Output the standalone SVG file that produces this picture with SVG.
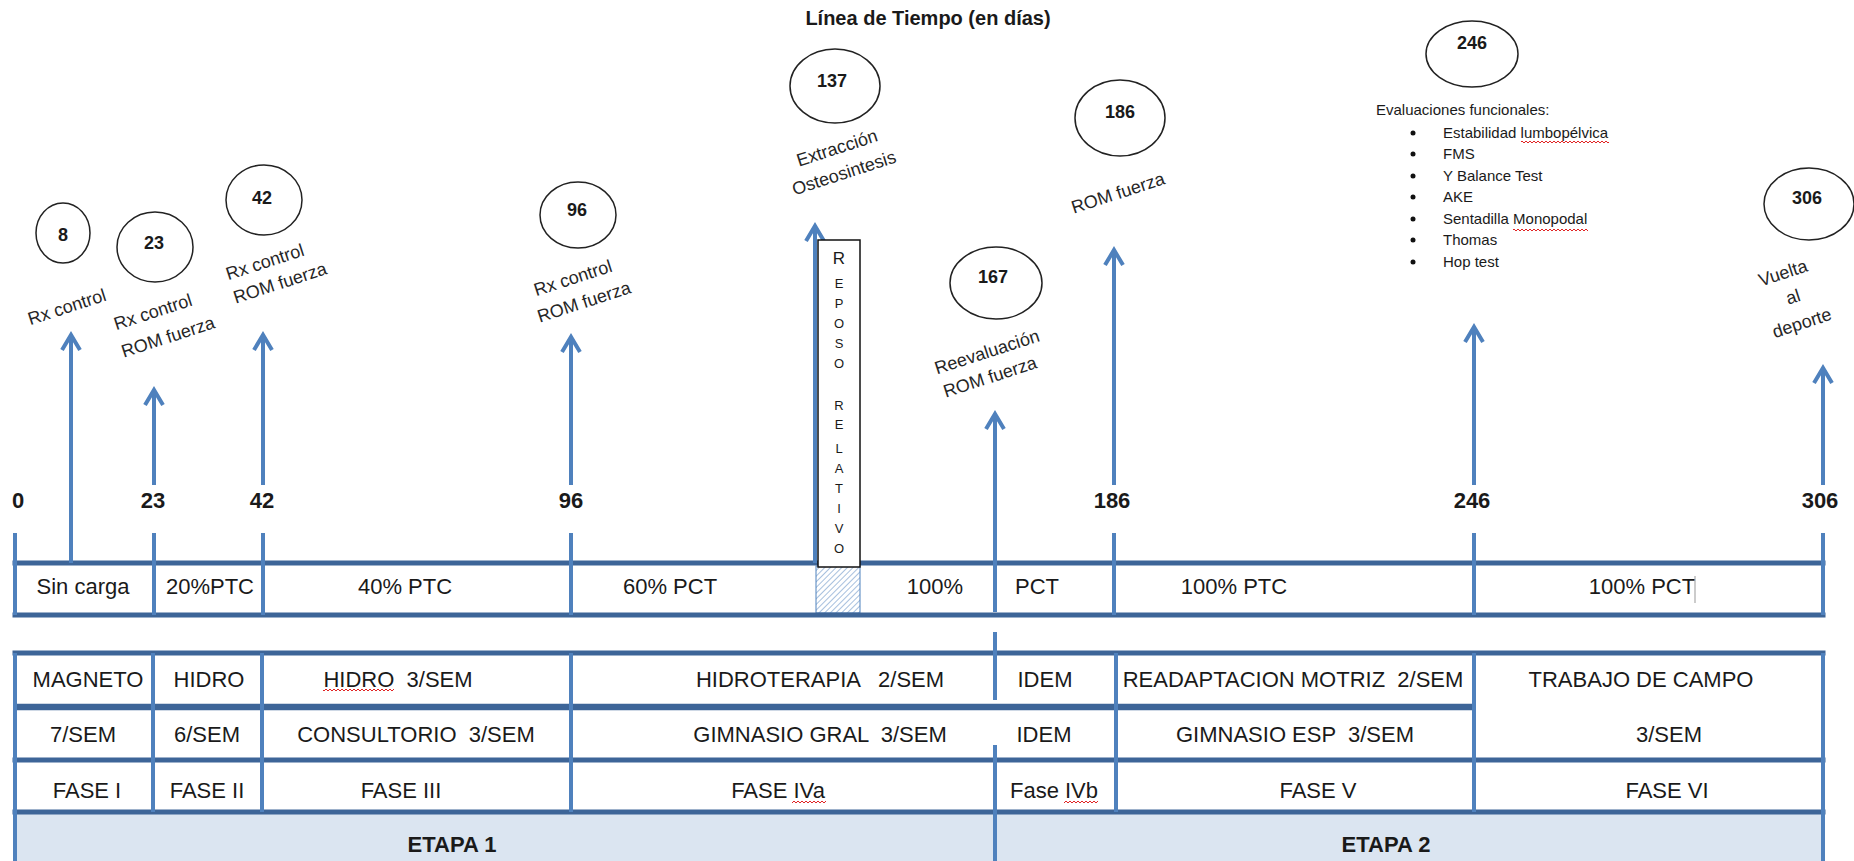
<svg xmlns="http://www.w3.org/2000/svg" width="1854" height="861" viewBox="0 0 1854 861">
<style>
text{font-family:"Liberation Sans",Arial,sans-serif;fill:#1a1a1a}
.cell{font-size:22px;text-anchor:middle}
.bold{font-weight:bold}
.tick{font-size:22px;font-weight:bold;text-anchor:middle}
.num{font-size:18px;font-weight:bold;text-anchor:middle}
.lbl{font-size:18px;text-anchor:middle;fill:#262626}
.let{font-size:13px;text-anchor:middle}
.lst{font-size:15px}
ellipse{fill:#fff;stroke:#222;stroke-width:1.5}
.ax{stroke:#4f81bd;stroke-width:4;fill:none;marker-end:url(#arr)}
.hl{stroke:#3d6598;stroke-width:5;stroke-linecap:square}
.hk{stroke:#3d6598;stroke-width:6.5}
.vl{stroke:#4f81bd;stroke-width:4}
.wv{fill:url(#wavy)}
</style>
<defs>
<marker id="arr" markerUnits="userSpaceOnUse" viewBox="-18 -12 22 24" markerWidth="22" markerHeight="24" refX="0" refY="0" orient="auto" overflow="visible">
<path d="M-15,-9 L0,0 L-15,9" fill="none" stroke="#4f81bd" stroke-width="4" stroke-linejoin="miter"/>
</marker>
<pattern id="hatch" width="4" height="4" patternUnits="userSpaceOnUse" patternTransform="rotate(45)">
<line x1="0" y1="0" x2="0" y2="4" stroke="#4f81bd" stroke-width="1"/>
</pattern>
<pattern id="wavy" width="4" height="4" patternUnits="userSpaceOnUse">
<path d="M0,3 L2,1 L4,3" fill="none" stroke="#e02424" stroke-width="1"/>
</pattern>
</defs>
<rect width="1854" height="861" fill="#fff"/>

<text x="928" y="25" class="bold" style="font-size:20px" text-anchor="middle">Línea de Tiempo (en días)</text>

<g id="table">
<rect x="15" y="812" width="1808" height="49" fill="#dbe5f1"/>
<rect x="816" y="566" width="44" height="47" fill="url(#hatch)" stroke="#4f81bd" stroke-width="1"/>
<line class="hl" x1="15" y1="563" x2="1823" y2="563"/>
<line class="hl" x1="15" y1="615" x2="1823" y2="615"/>
<line class="vl" x1="15" y1="533" x2="15" y2="615"/>
<line class="vl" x1="154" y1="533" x2="154" y2="615"/>
<line class="vl" x1="263" y1="533" x2="263" y2="615"/>
<line class="vl" x1="571" y1="533" x2="571" y2="615"/>
<line class="vl" x1="1114" y1="533" x2="1114" y2="615"/>
<line class="vl" x1="1474" y1="533" x2="1474" y2="615"/>
<line class="vl" x1="1823" y1="533" x2="1823" y2="615"/>

<line class="hl" x1="15" y1="653" x2="1823" y2="653"/>
<line class="hk" x1="15" y1="707" x2="1474" y2="707"/>
<line class="hl" x1="15" y1="760" x2="1823" y2="760"/>
<line class="hl" x1="15" y1="812" x2="1823" y2="812"/>
<line class="vl" x1="15" y1="653" x2="15" y2="861"/>
<line class="vl" x1="1823" y1="653" x2="1823" y2="861"/>
<line class="vl" x1="153" y1="653" x2="153" y2="812"/>
<line class="vl" x1="262" y1="653" x2="262" y2="812"/>
<line class="vl" x1="571" y1="653" x2="571" y2="812"/>
<line class="vl" x1="1116" y1="653" x2="1116" y2="812"/>
<line class="vl" x1="1474" y1="653" x2="1474" y2="812"/>
<line class="vl" x1="995" y1="632" x2="995" y2="700"/>
<line class="vl" x1="995" y1="745" x2="995" y2="861"/>

<text class="cell" x="83" y="594">Sin carga</text>
<text class="cell" x="210" y="594">20%PTC</text>
<text class="cell" x="405" y="594">40% PTC</text>
<text class="cell" x="670" y="594">60% PCT</text>
<text class="cell" x="935" y="594">100%</text>
<text class="cell" x="1037" y="594">PCT</text>
<text class="cell" x="1234" y="594">100% PTC</text>
<text class="cell" x="1642" y="594">100% PCT</text>
<line x1="1695" y1="576" x2="1695" y2="603" stroke="#999" stroke-width="1"/>

<text class="cell" x="88" y="687">MAGNETO</text>
<text class="cell" x="209" y="687">HIDRO</text>
<text class="cell" x="398" y="687" xml:space="preserve">HIDRO  3/SEM</text>
<rect class="wv" x="323" y="688" width="71" height="4"/>
<text class="cell" x="820" y="687" xml:space="preserve">HIDROTERAPIA   2/SEM</text>
<text class="cell" x="1045" y="687">IDEM</text>
<text class="cell" x="1293" y="687" xml:space="preserve">READAPTACION MOTRIZ  2/SEM</text>
<text class="cell" x="1641" y="687">TRABAJO DE CAMPO</text>

<text class="cell" x="83" y="742">7/SEM</text>
<text class="cell" x="207" y="742">6/SEM</text>
<text class="cell" x="416" y="742" xml:space="preserve">CONSULTORIO  3/SEM</text>
<text class="cell" x="820" y="742" xml:space="preserve">GIMNASIO GRAL  3/SEM</text>
<text class="cell" x="1044" y="742">IDEM</text>
<text class="cell" x="1295" y="742" xml:space="preserve">GIMNASIO ESP  3/SEM</text>
<text class="cell" x="1669" y="742">3/SEM</text>

<text class="cell" x="87" y="798">FASE I</text>
<text class="cell" x="207" y="798">FASE II</text>
<text class="cell" x="401" y="798">FASE III</text>
<text class="cell" x="778" y="798">FASE IVa</text>
<rect class="wv" x="792" y="800" width="34" height="4"/>
<text class="cell" x="1054" y="798">Fase IVb</text>
<rect class="wv" x="1064" y="800" width="34" height="4"/>
<text class="cell" x="1318" y="798">FASE V</text>
<text class="cell" x="1667" y="798">FASE VI</text>

<text class="cell bold" x="452" y="852">ETAPA 1</text>
<text class="cell bold" x="1386" y="852">ETAPA 2</text>
</g>

<g id="ticks">
<text class="tick" x="18" y="508">0</text>
<text class="tick" x="153" y="508">23</text>
<text class="tick" x="262" y="508">42</text>
<text class="tick" x="571" y="508">96</text>
<text class="tick" x="1112" y="508">186</text>
<text class="tick" x="1472" y="508">246</text>
<text class="tick" x="1820" y="508">306</text>
</g>

<g id="connectors">
<line class="ax" x1="71" y1="563" x2="71" y2="335"/>
<line class="ax" x1="154" y1="485" x2="154" y2="390"/>
<line class="ax" x1="263" y1="485" x2="263" y2="335"/>
<line class="ax" x1="571" y1="485" x2="571" y2="337"/>
<line class="ax" x1="815" y1="563" x2="815" y2="226"/>
<line class="ax" x1="995" y1="612" x2="995" y2="414"/>
<line class="ax" x1="1114" y1="485" x2="1114" y2="250"/>
<line class="ax" x1="1474" y1="485" x2="1474" y2="327"/>
<line class="ax" x1="1823" y1="485" x2="1823" y2="368"/>
</g>

<g id="reposo">
<rect x="818" y="240" width="42" height="327" fill="#fff" stroke="#111" stroke-width="1.5"/>
<text class="let" x="839" y="264" style="font-size:17px">R</text>
<text class="let" x="839" y="288">E</text>
<text class="let" x="839" y="308">P</text>
<text class="let" x="839" y="328">O</text>
<text class="let" x="839" y="348">S</text>
<text class="let" x="839" y="368">O</text>
<text class="let" x="839" y="410">R</text>
<text class="let" x="839" y="429">E</text>
<text class="let" x="839" y="453">L</text>
<text class="let" x="839" y="473">A</text>
<text class="let" x="839" y="493">T</text>
<text class="let" x="839" y="513">I</text>
<text class="let" x="839" y="533">V</text>
<text class="let" x="839" y="553">O</text>
</g>

<g id="n8">
<ellipse cx="63" cy="233" rx="27" ry="30"/>
<text class="num" x="63" y="241">8</text>
<text class="lbl" x="67" y="313" transform="rotate(-18 67 307)">Rx control</text>
</g>
<g id="n23">
<ellipse cx="155" cy="247" rx="38" ry="35"/>
<text class="num" x="154" y="249">23</text>
<text class="lbl" x="153" y="318" transform="rotate(-18 153 312)">Rx control</text>
<text class="lbl" x="168" y="343" transform="rotate(-18 168 337)">ROM fuerza</text>
</g>
<g id="n42">
<ellipse cx="264" cy="200" rx="38" ry="35"/>
<text class="num" x="262" y="204">42</text>
<text class="lbl" x="265" y="268" transform="rotate(-18 265 262)">Rx control</text>
<text class="lbl" x="280" y="289" transform="rotate(-18 280 283)">ROM fuerza</text>
</g>
<g id="n96">
<ellipse cx="578" cy="215" rx="38" ry="33"/>
<text class="num" x="577" y="216">96</text>
<text class="lbl" x="573" y="284" transform="rotate(-18 573 278)">Rx control</text>
<text class="lbl" x="584" y="308" transform="rotate(-18 584 302)">ROM fuerza</text>
</g>
<g id="n137">
<ellipse cx="835" cy="86" rx="45" ry="37"/>
<text class="num" x="832" y="87">137</text>
<text class="lbl" x="837" y="154" transform="rotate(-18 837 148)">Extracción</text>
<text class="lbl" x="844" y="179" transform="rotate(-18 844 173)">Osteosintesis</text>
</g>
<g id="n167">
<ellipse cx="996" cy="283" rx="46" ry="36"/>
<text class="num" x="993" y="283">167</text>
<text class="lbl" x="987" y="358" transform="rotate(-18 987 352)">Reevaluación</text>
<text class="lbl" x="990" y="383" transform="rotate(-18 990 377)">ROM fuerza</text>
</g>
<g id="n186">
<ellipse cx="1120" cy="118" rx="45" ry="38"/>
<text class="num" x="1120" y="118">186</text>
<text class="lbl" x="1118" y="199" transform="rotate(-18 1118 193)">ROM fuerza</text>
</g>
<g id="n246">
<ellipse cx="1472" cy="54" rx="46" ry="33"/>
<text class="num" x="1472" y="49">246</text>
<text class="lst" x="1376" y="115">Evaluaciones funcionales:</text>
<circle cx="1413" cy="133" r="2.5" fill="#111"/>
<circle cx="1413" cy="154" r="2.5" fill="#111"/>
<circle cx="1413" cy="176" r="2.5" fill="#111"/>
<circle cx="1413" cy="197" r="2.5" fill="#111"/>
<circle cx="1413" cy="219" r="2.5" fill="#111"/>
<circle cx="1413" cy="240" r="2.5" fill="#111"/>
<circle cx="1413" cy="262" r="2.5" fill="#111"/>
<text class="lst" x="1443" y="138">Estabilidad lumbopélvica</text>
<rect class="wv" x="1521" y="140" width="88" height="4"/>
<text class="lst" x="1443" y="159">FMS</text>
<text class="lst" x="1443" y="181">Y Balance Test</text>
<text class="lst" x="1443" y="202">AKE</text>
<text class="lst" x="1443" y="224">Sentadilla Monopodal</text>
<rect class="wv" x="1513" y="228" width="75" height="4"/>
<text class="lst" x="1443" y="245">Thomas</text>
<text class="lst" x="1443" y="267">Hop test</text>
</g>
<g id="n306">
<ellipse cx="1809" cy="204" rx="45" ry="36"/>
<text class="num" x="1807" y="204">306</text>
<text class="lbl" x="1783" y="279" transform="rotate(-18 1783 273)">Vuelta</text>
<text class="lbl" x="1793" y="303" transform="rotate(-18 1793 297)">al</text>
<text class="lbl" x="1802" y="329" transform="rotate(-18 1802 323)">deporte</text>
</g>
</svg>
